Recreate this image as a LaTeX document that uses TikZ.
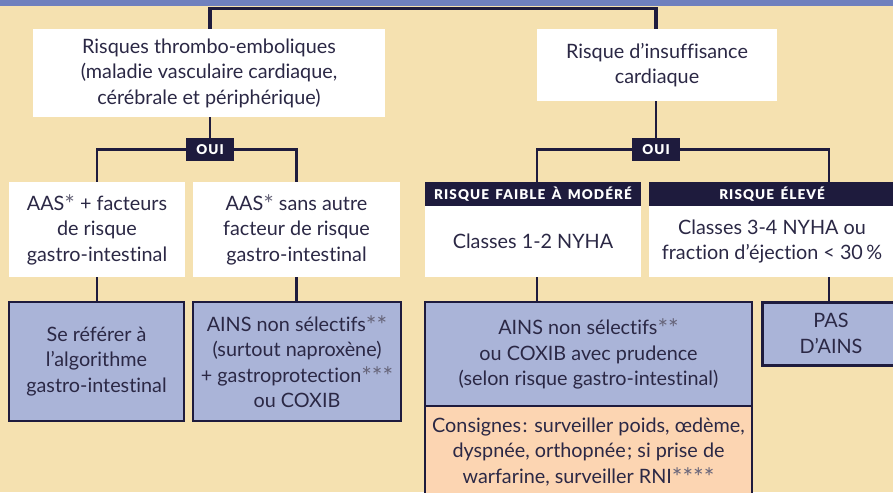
\documentclass[tikz,border=0pt]{standalone}
\usepackage{fontspec}
\setmainfont{Lato}[Ligatures=NoCommon]
\newfontfamily\hdrfont[LetterSpace=8]{Lato Black}
\definecolor{bg}{HTML}{F5E1B0}
\definecolor{navy}{HTML}{1E1B3D}
\definecolor{band}{HTML}{6F80BE}
\definecolor{bluebox}{HTML}{AAB4D8}
\definecolor{orangebox}{HTML}{FCD5B2}
\definecolor{txt}{HTML}{2B2845}
\newcommand\starmark[1]{\textcolor{txt!72}{\raisebox{-3pt}{\fontsize{25}{25}\selectfont #1}}}
\begin{document}
\begin{tikzpicture}[x=1pt,y=-1pt,
  base/.style={inner sep=0pt, align=center, text=txt, font=\fontsize{19.8}{25.5}\selectfont},
  wbox/.style={base, fill=white},
  bbox/.style={base, fill=bluebox, draw=navy, line width=1.5pt},
  obox/.style={base, fill=orangebox, draw=navy, line width=1.5pt},
  hdr/.style={inner sep=0pt, fill=navy, text=white, font=\hdrfont\fontsize{13.5}{15}\selectfont},
  conn/.style={draw=navy, line width=2.5pt}]
\path[use as bounding box, fill=bg] (0,0) rectangle (893,492);
\clip (0,0) rectangle (893,492);
\fill[band] (0,0) rectangle (893,6);
\coordinate (top) at (0,8.5);
\coordinate (kL) at (537,0);
\coordinate (kR) at (829,0);
% level 1
\node[wbox, minimum width=352pt, minimum height=88pt] (b1) at (209,73)
  {Risques thrombo-emboliques\\(maladie vasculaire cardiaque,\\cérébrale et périphérique)};
\node[wbox, minimum width=240pt, minimum height=72pt] (b2) at (657,65)
  {Risque d’insuffisance\\cardiaque};
% OUI labels
\node[hdr, minimum width=48pt, minimum height=23pt] (oui1) at (210,149.5) {OUI};
\node[hdr, minimum width=48pt, minimum height=23pt] (oui2) at (656,149.5) {OUI};
% level 2
\node[wbox, minimum width=176pt, minimum height=95pt] (a1) at (97,229.5)
  {AAS\starmark{*} + facteurs\\de risque\\gastro-intestinal};
\node[wbox, minimum width=207pt, minimum height=95pt] (a2) at (296.5,229.5)
  {AAS\starmark{*} sans autre\\facteur de risque\\gastro-intestinal};
\node[hdr, minimum width=216pt, minimum height=24pt] (h1) at (533,194) {RISQUE\, FAIBLE\, À\, MODÉRÉ};
\node[wbox, minimum width=216pt, minimum height=71pt] (w1) at (533,241.5) {Classes 1-2 NYHA};
\node[hdr, minimum width=246pt, minimum height=24pt] (h2) at (772,194) {RISQUE\, ÉLEVÉ};
\node[wbox, minimum width=246pt, minimum height=71pt] (w2) at (772,241.5)
  {Classes 3-4 NYHA ou\\fraction d’éjection < 30\,\%};
% level 3
\node[bbox, minimum width=175pt, minimum height=119pt] (c1) at (96.5,361.5)
  {Se référer à\\l’algorithme\\gastro-intestinal};
\node[bbox, minimum width=208pt, minimum height=119pt] (c2) at (297,361.5)
  {AINS non sélectifs\starmark{**}\\(surtout naproxène)\\+ gastroprotection\starmark{***}\\ou COXIB};
\node[obox, minimum width=327pt, minimum height=92pt] (c3o) at (588.5,452)
  {Consignes\hspace{1.5pt}: surveiller poids, œdème,\\dyspnée, orthopnée\hspace{1.5pt}; si prise de\\warfarine, surveiller RNI\starmark{****}};
\node[bbox, minimum width=327pt, minimum height=104pt] (c3) at (588.5,354)
  {AINS non sélectifs\starmark{**}\\ou COXIB avec prudence\\(selon risque gastro-intestinal)};
\node[bbox, line width=3pt, minimum width=138pt, minimum height=63pt] (c4) at (831,333.5)
  {PAS\\D’AINS};
% connectors
\draw[conn, line width=3.5pt] (oui1 |- b1.north) -- (oui1 |- top) -- (oui2 |- top) -- (oui2 |- b2.north);
\draw[conn] (oui1 |- b1.south) -- (oui1.north);
\draw[conn] (oui1.west) -| (a1.north);
\draw[conn] (oui1.east) -| (a2.north);
\draw[conn] (oui2 |- b2.south) -- (oui2.north);
\draw[conn] (oui2.west) -| (kL |- h1.north);
\draw[conn] (oui2.east) -| (kR |- h2.north);
\draw[conn] (a1.south) -- (a1.south |- c1.north);
\draw[conn] (a2.south) -- (a2.south |- c2.north);
\draw[conn] (kL |- w1.south) -- (kL |- c3.north);
\draw[conn] (kR |- w2.south) -- (kR |- c4.north);
\end{tikzpicture}
\end{document}
